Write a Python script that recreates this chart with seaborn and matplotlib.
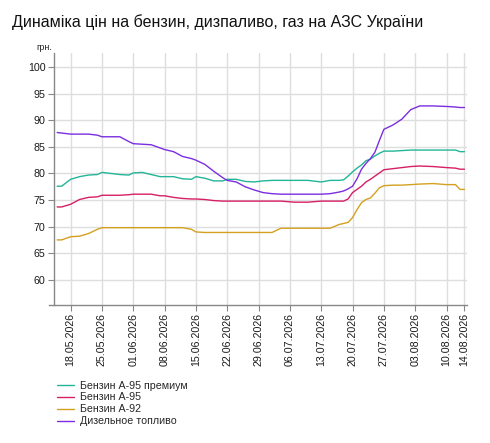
import pandas as pd
import matplotlib
matplotlib.use("Agg")
import matplotlib.pyplot as plt
import matplotlib.dates as mdates
import seaborn as sns

# Data (UAH per litre)
dates = ["15.05", "16.05", "18.05", "20.05", "22.05", "24.05", "25.05", "27.05",
         "29.05", "31.05", "01.06", "03.06", "05.06", "07.06", "08.06", "10.06",
         "12.06", "14.06", "15.06", "17.06", "19.06", "21.06", "22.06", "24.06",
         "26.06", "28.06", "30.06", "02.07", "04.07", "07.07", "10.07", "13.07",
         "15.07", "17.07", "18.07", "19.07", "20.07", "21.07", "22.07", "23.07",
         "24.07", "25.07", "26.07", "27.07", "29.07", "31.07", "02.08", "04.08",
         "07.08", "10.08", "12.08", "13.08", "14.08"]

premium_95 = [77.6, 77.6, 78.9, 79.4, 79.7, 79.8, 80.2, 80.0,
              79.8, 79.7, 80.1, 80.2, 79.8, 79.4, 79.4, 79.4,
              79.0, 78.9, 79.4, 79.1, 78.6, 78.6, 78.9, 78.9,
              78.5, 78.4, 78.6, 78.7, 78.7, 78.7, 78.7, 78.4,
              78.7, 78.7, 78.8, 79.5, 80.3, 81.0, 81.6, 82.4,
              82.7, 83.3, 83.8, 84.2, 84.2, 84.3, 84.4, 84.4,
              84.4, 84.4, 84.4, 84.1, 84.1]

a_95 = [73.7, 73.7, 74.2, 75.1, 75.5, 75.6, 75.9, 75.9,
        75.9, 76.0, 76.1, 76.1, 76.1, 75.8, 75.8, 75.5,
        75.3, 75.2, 75.2, 75.1, 74.9, 74.8, 74.8, 74.8,
        74.8, 74.8, 74.8, 74.8, 74.8, 74.6, 74.6, 74.8,
        74.8, 74.8, 74.8, 75.2, 76.4, 77.0, 77.6, 78.4,
        78.9, 79.5, 80.1, 80.7, 80.9, 81.1, 81.3, 81.4,
        81.3, 81.1, 81.0, 80.8, 80.8]

a_92 = [67.5, 67.5, 68.1, 68.2, 68.7, 69.5, 69.8, 69.8,
        69.8, 69.8, 69.8, 69.8, 69.8, 69.8, 69.8, 69.8,
        69.8, 69.5, 69.0, 68.9, 68.9, 68.9, 68.9, 68.9,
        68.9, 68.9, 68.9, 68.9, 69.7, 69.7, 69.7, 69.7,
        69.7, 70.4, 70.6, 70.8, 71.7, 73.2, 74.5, 75.1,
        75.4, 76.3, 77.3, 77.7, 77.8, 77.8, 77.9, 78.0,
        78.1, 77.9, 77.9, 77.0, 77.0]

diesel = [87.7, 87.6, 87.4, 87.4, 87.4, 87.2, 86.9, 86.9,
          86.9, 86.0, 85.6, 85.5, 85.4, 84.8, 84.5, 84.1,
          83.2, 82.8, 82.5, 81.7, 80.4, 79.2, 78.7, 78.4,
          77.5, 76.9, 76.4, 76.2, 76.1, 76.1, 76.1, 76.1,
          76.2, 76.5, 76.7, 77.1, 77.6, 79.0, 80.8, 81.9,
          82.8, 84.0, 86.2, 88.3, 89.1, 90.2, 92.0, 92.7,
          92.7, 92.6, 92.5, 92.4, 92.4]

series_names = ["Бензин А-95 премиум", "Бензин А-95", "Бензин А-92", "Дизельное топливо"]
colors = ["#22b598", "#d61f64", "#d4a020", "#7b2ee0"]

tick_dates = ["18.05", "25.05", "01.06", "08.06", "15.06", "22.06", "29.06",
              "06.07", "13.07", "20.07", "27.07", "03.08", "10.08", "14.08"]
y_ticks = [60, 65, 70, 75, 80, 85, 90, 95, 100]

df = pd.DataFrame({"date": pd.to_datetime([d + ".2026" for d in dates], format="%d.%m.%Y")})
for name, vals in zip(series_names, [premium_95, a_95, a_92, diesel]):
    df[name] = vals
long = df.melt(id_vars="date", var_name="fuel", value_name="price")

sns.set_style("white")
plt.rcParams["font.family"] = ["Liberation Sans", "DejaVu Sans"]

fig = plt.figure(figsize=(4.9, 4.43), dpi=100)
ax = fig.add_axes([0.1102, 0.3126, 0.8422, 0.5671])

sns.lineplot(data=long, x="date", y="price", hue="fuel", hue_order=series_names,
             palette=dict(zip(series_names, colors)), linewidth=1.0, ax=ax,
             legend=True)

start = pd.Timestamp("2026-05-15") - pd.Timedelta(hours=17)
end = pd.Timestamp("2026-08-14") + pd.Timedelta(hours=12)
ax.set_xlim(start, end)
ax.set_ylim(55.35, 102.6)

ticks = pd.to_datetime([d + ".2026" for d in tick_dates], format="%d.%m.%Y")
ax.set_xticks(ticks)
ax.set_xticklabels([t.strftime("%d.%m.%Y") for t in ticks], rotation=90,
                   fontsize=7.7, color="#1a1a1a")
ax.set_yticks(y_ticks)
ax.set_yticklabels([str(v) for v in y_ticks], fontsize=7.7, color="#1a1a1a")

ax.grid(True, color="#dedede", linewidth=1.0)
ax.set_axisbelow(True)
ax.tick_params(axis="both", length=4, width=0.8, color="#888888", pad=2,
               left=True, bottom=True)
for side in ["top", "right"]:
    ax.spines[side].set_visible(False)
for side in ["left", "bottom"]:
    ax.spines[side].set_color("#888888")
    ax.spines[side].set_linewidth(1.0)
ax.spines["bottom"].set_bounds(mdates.date2num(start - pd.Timedelta(days=1.1)),
                               mdates.date2num(end))

ax.set_xlabel("")
ax.set_ylabel("")
ax.text(-0.004, 1.022, "грн.", transform=ax.transAxes, fontsize=6.5,
        color="#222222", ha="right", va="center")

fig.text(0.024, 0.951, "Динаміка цін на бензин, дизпаливо, газ на АЗС України",
         fontsize=11.5, color="#111111", ha="left", va="center")

handles, labels = ax.get_legend_handles_labels()
ax.legend(handles, labels, loc="upper left", bbox_to_anchor=(0.116, 0.141),
          bbox_transform=fig.transFigure, frameon=False, fontsize=7.7,
          handlelength=1.6, handletextpad=0.6, labelspacing=0.18,
          borderaxespad=0, borderpad=0)

fig.savefig("out.png", dpi=100)
